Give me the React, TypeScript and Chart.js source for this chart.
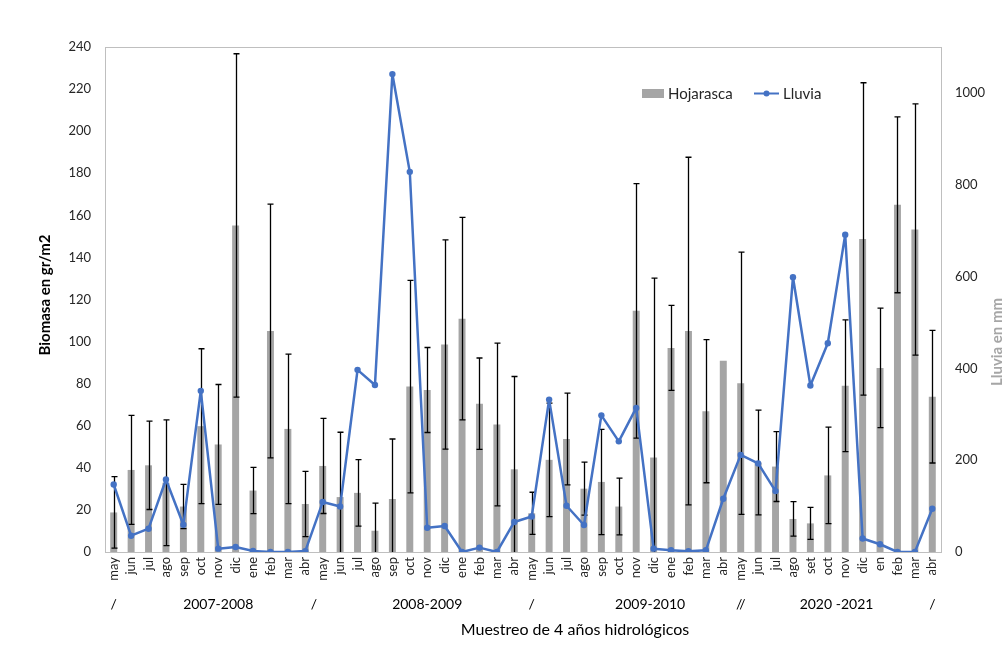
import React, { useEffect, useRef } from "react";
import { Chart, registerables } from "chart.js";

Chart.register(...registerables);

const meses = [
  "may", "jun", "jul", "ago", "sep", "oct", "nov", "dic", "ene", "feb", "mar", "abr",
  "may", "jun", "jul", "ago", "sep", "oct", "nov", "dic", "ene", "feb", "mar", "abr",
  "may", "jun", "jul", "ago", "sep", "oct", "nov", "dic", "ene", "feb", "mar", "abr",
  "may", "jun", "jul", "ago", "set", "oct", "nov", "dic", "en", "feb", "mar", "abr",
];

const hojarasca = [
  18.8, 39.0, 41.2, 32.9, 21.6, 59.8, 51.1, 155.2, 29.2, 105.0, 58.5, 22.8,
  40.9, 26.1, 28.1, 10.1, 25.2, 78.6, 77.0, 98.6, 110.9, 70.5, 60.6, 39.3,
  18.4, 43.8, 53.7, 30.1, 33.3, 21.6, 114.6, 44.9, 97.0, 105.0, 66.9, 90.9,
  80.2, 42.5, 40.6, 15.7, 13.6, 36.4, 79.0, 148.8, 87.5, 165.0, 153.3, 73.8,
];

const desviacion: (number | null)[] = [
  17.0, 25.9, 21.0, 29.9, 10.5, 36.8, 28.5, 81.6, 11.0, 60.3, 35.5, 15.5,
  22.6, 30.8, 15.8, 13.1, 28.5, 50.5, 20.2, 49.7, 48.1, 21.7, 38.7, 44.1,
  10.0, 27.0, 21.8, 12.6, 25.0, 13.5, 60.5, 85.3, 20.2, 82.6, 34.0, null,
  62.3, 24.9, 16.6, 8.2, 7.6, 22.9, 31.3, 74.2, 28.4, 41.8, 59.7, 31.5,
];

const lluvia = [
  147, 35.5, 50.8, 158, 59.5, 351, 7.3, 11, 2.2, 0, 0, 2,
  108.8, 99.2, 396.8, 363.7, 1041, 828, 52.9, 56.6, 0, 9.6, 0, 65.4,
  77.2, 332, 100.7, 58.8, 297.6, 241, 313.8, 7.3, 3.7, 1.5, 3.7, 116,
  211.5, 193, 132.6, 598.4, 362.6, 454.7, 691.2, 29.5, 16.9, 0, 0, 94.3,
];

// group labels under the month axis: [text, category position]
const periodos: [string, number][] = [
  ["/", 0], ["2007-2008", 6], ["/", 11.5], ["2008-2009", 18], ["/", 24],
  ["2009-2010", 30.8], ["//", 36], ["2020 -2021", 41.5], ["/", 47],
];

const FONT = "Lato, 'Open Sans', sans-serif";
const GRAY = "#A5A5A5";
const BLUE = "#4472C4";

export default function App() {
  const ref = useRef<HTMLCanvasElement>(null);

  useEffect(() => {
    if (!ref.current) return;

    const frame = {
      id: "frame",
      beforeDatasetsDraw(chart: any) {
        const { ctx, chartArea: a } = chart;
        ctx.save();
        ctx.strokeStyle = "#BFBFBF";
        ctx.lineWidth = 1;
        ctx.strokeRect(Math.round(a.left) + 0.5, Math.round(a.top) + 0.5, Math.round(a.right - a.left), Math.round(a.bottom - a.top));
        ctx.restore();
      },
    };

    const errorBars = {
      id: "errorBars",
      afterDatasetDraw(chart: any, args: any) {
        if (args.index !== 0) return;
        const { ctx, chartArea: a } = chart;
        const y = chart.scales.y;
        const meta = chart.getDatasetMeta(0);
        ctx.save();
        ctx.beginPath();
        ctx.rect(a.left, a.top, a.right - a.left, a.bottom - a.top);
        ctx.clip();
        ctx.strokeStyle = "#000";
        ctx.lineWidth = 1.3;
        meta.data.forEach((bar: any, i: number) => {
          const s = desviacion[i];
          if (s == null) return;
          const v = hojarasca[i];
          const yt = y.getPixelForValue(v + s);
          const yb = y.getPixelForValue(v - s);
          const x = Math.round(bar.x) + 0.5;
          ctx.beginPath();
          ctx.moveTo(x, yt);
          ctx.lineTo(x, yb);
          ctx.moveTo(x - 3, yt);
          ctx.lineTo(x + 3, yt);
          ctx.moveTo(x - 3, yb);
          ctx.lineTo(x + 3, yb);
          ctx.stroke();
        });
        ctx.restore();
      },
    };

    const extras = {
      id: "extras",
      afterDraw(chart: any) {
        const { ctx } = chart;
        const x = chart.scales.x;
        const p0 = x.getPixelForValue(0);
        const step = x.getPixelForValue(1) - p0;
        ctx.save();
        // period row
        ctx.fillStyle = "#000";
        ctx.font = `14px ${FONT}`;
        ctx.textAlign = "center";
        ctx.textBaseline = "middle";
        periodos.forEach(([t, pos]) => ctx.fillText(t, p0 + pos * step, 604));
        // x title
        ctx.font = `16px ${FONT}`;
        ctx.fillText("Muestreo de 4 años hidrológicos", 575, 630);
        // y titles
        ctx.save();
        ctx.translate(45, 295);
        ctx.rotate(-Math.PI / 2);
        ctx.font = `bold 15px ${FONT}`;
        ctx.fillStyle = "#000";
        ctx.fillText("Biomasa en gr/m2", 0, 0);
        ctx.restore();
        ctx.save();
        ctx.translate(997, 342);
        ctx.rotate(-Math.PI / 2);
        ctx.font = `bold 15px ${FONT}`;
        ctx.fillStyle = "#A6A6A6";
        ctx.fillText("Lluvia en mm", 0, 0);
        ctx.restore();
        // legend
        ctx.fillStyle = GRAY;
        ctx.fillRect(642, 89, 22, 9);
        ctx.fillStyle = "#262626";
        ctx.font = `15px ${FONT}`;
        ctx.textAlign = "left";
        ctx.fillText("Hojarasca", 668, 94);
        ctx.strokeStyle = BLUE;
        ctx.lineWidth = 2;
        ctx.beginPath();
        ctx.moveTo(754, 93.5);
        ctx.lineTo(779, 93.5);
        ctx.stroke();
        ctx.fillStyle = BLUE;
        ctx.beginPath();
        ctx.arc(766.5, 93.5, 3, 0, Math.PI * 2);
        ctx.fill();
        ctx.fillStyle = "#262626";
        ctx.fillText("Lluvia", 783, 94);
        ctx.restore();
      },
    };

    const chart = new Chart(ref.current, {
      type: "bar",
      data: {
        labels: meses,
        datasets: [
          {
            type: "bar",
            label: "Hojarasca",
            data: hojarasca,
            backgroundColor: GRAY,
            barPercentage: 0.4,
            categoryPercentage: 1,
            yAxisID: "y",
            order: 2,
          },
          {
            type: "line",
            label: "Lluvia",
            data: lluvia,
            borderColor: BLUE,
            backgroundColor: BLUE,
            borderWidth: 2.5,
            borderJoinStyle: "round",
            borderCapStyle: "round",
            pointRadius: 3.2,
            pointBorderWidth: 0,
            pointBackgroundColor: BLUE,
            tension: 0,
            yAxisID: "y1",
            order: 1,
          },
        ],
      },
      options: {
        responsive: true,
        maintainAspectRatio: false,
        animation: false,
        layout: { padding: { top: 47, left: 0, right: 0, bottom: 0 } },
        plugins: { legend: { display: false }, tooltip: { enabled: false } },
        scales: {
          x: {
            grid: { display: false, drawTicks: false },
            border: { display: false },
            ticks: {
              autoSkip: false,
              minRotation: 90,
              maxRotation: 90,
              padding: 5,
              color: "#262626",
              font: { family: FONT, size: 13 },
            },
            afterFit: (s: any) => { s.height = 93; },
          },
          y: {
            position: "left",
            min: 0,
            max: 240,
            grid: { display: false, drawTicks: false },
            border: { display: false },
            ticks: {
              stepSize: 20,
              padding: 14,
              color: "#262626",
              font: { family: FONT, size: 13 },
              callback: (v: any) => String(v),
            },
            afterFit: (s: any) => { s.width = 105; },
          },
          y1: {
            position: "right",
            min: 0,
            max: 1100,
            grid: { display: false, drawTicks: false },
            border: { display: false },
            ticks: {
              stepSize: 200,
              padding: 14,
              color: "#262626",
              font: { family: FONT, size: 13 },
              callback: (v: any) => String(v),
            },
            afterBuildTicks: (s: any) => { s.ticks = s.ticks.filter((t: any) => t.value <= 1000); },
            afterFit: (s: any) => { s.width = 64; },
          },
        },
      },
      plugins: [frame, errorBars, extras],
    } as any);

    return () => chart.destroy();
  }, []);

  return (
    <div style={{ position: "fixed", left: 0, top: 0, width: 1005, height: 645, background: "#fff" }}>
      <canvas ref={ref} />
    </div>
  );
}
